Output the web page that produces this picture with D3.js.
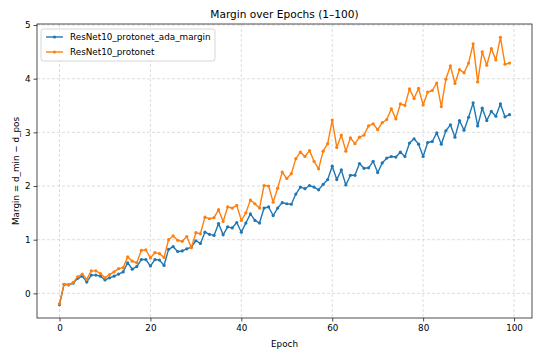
<!DOCTYPE html>
<html>
<head>
<meta charset="utf-8">
<script src="https://cdn.jsdelivr.net/npm/d3@7"></script>
<style>
  body { margin: 0; background: #fff; }
  text { font-family: "DejaVu Sans", sans-serif; fill: #000; }
</style>
</head>
<body>
<svg width="550" height="351"></svg>
<script>
var epochs = d3.range(100);
var seriesNames = ["ResNet10_protonet_ada_margin", "ResNet10_protonet"];
var adaMargin = [
    -0.21, 0.17, 0.16, 0.19, 0.28, 0.32, 0.21, 0.34, 0.34, 0.32,
    0.25, 0.29, 0.32, 0.36, 0.40, 0.57, 0.45, 0.50, 0.63, 0.63,
    0.51, 0.63, 0.62, 0.52, 0.82, 0.87, 0.78, 0.79, 0.83, 0.86,
    0.98, 0.93, 1.14, 1.10, 1.08, 1.30, 1.09, 1.24, 1.22, 1.32,
    1.14, 1.31, 1.48, 1.36, 1.31, 1.59, 1.61, 1.45, 1.59, 1.69,
    1.67, 1.66, 1.85, 1.98, 1.95, 2.01, 1.98, 1.93, 2.03, 2.12,
    2.37, 2.12, 2.30, 2.02, 2.20, 2.20, 2.42, 2.33, 2.34, 2.46,
    2.25, 2.43, 2.52, 2.55, 2.54, 2.63, 2.55, 2.80, 2.88, 2.78,
    2.55, 2.81, 2.83, 2.99, 2.78, 3.03, 3.14, 2.91, 3.22, 3.04,
    3.28, 3.55, 3.12, 3.45, 3.22, 3.39, 3.30, 3.53, 3.29, 3.33
];
var protonet = [
    -0.19, 0.17, 0.16, 0.20, 0.31, 0.36, 0.26, 0.42, 0.42, 0.37,
    0.29, 0.35, 0.40, 0.46, 0.48, 0.68, 0.60, 0.57, 0.80, 0.81,
    0.66, 0.76, 0.74, 0.67, 1.00, 1.07, 0.99, 0.97, 1.06, 0.85,
    1.13, 1.11, 1.42, 1.39, 1.41, 1.56, 1.34, 1.61, 1.59, 1.64,
    1.36, 1.50, 1.74, 1.67, 1.59, 2.01, 2.00, 1.70, 1.96, 2.26,
    2.14, 2.23, 2.51, 2.63, 2.55, 2.66, 2.46, 2.32, 2.65, 2.79,
    3.23, 2.72, 2.95, 2.65, 2.90, 2.79, 2.91, 2.95, 3.12, 3.16,
    3.05, 3.18, 3.24, 3.44, 3.25, 3.53, 3.50, 3.81, 3.63, 3.82,
    3.51, 3.75, 3.78, 3.92, 3.48, 3.99, 4.24, 3.91, 4.17, 4.11,
    4.29, 4.65, 3.94, 4.50, 4.25, 4.56, 4.35, 4.77, 4.27, 4.29
];
var xTicks = [0, 20, 40, 60, 80, 100];
var yTicks = [0, 1, 2, 3, 4, 5];
var colors = ["#1f77b4", "#ff7f0e"];

var svg = d3.select("svg");
var margin = {top: 24, right: 18, bottom: 33, left: 37};
var width = +svg.attr("width") - margin.left - margin.right;
var height = +svg.attr("height") - margin.top - margin.bottom;

// matplotlib-like 5% padding
var allVals = adaMargin.concat(protonet);
var yMin = d3.min(allVals), yMax = d3.max(allVals);
var yPad = (yMax - yMin) * 0.05;
var xPad = (epochs[epochs.length - 1] - epochs[0]) * 0.05;

var x = d3.scaleLinear()
    .domain([epochs[0] - xPad, epochs[epochs.length - 1] + xPad])
    .range([0, width]);
var y = d3.scaleLinear()
    .domain([yMin - yPad, yMax + yPad])
    .range([height, 0]);

var g = svg.append("g").attr("transform", "translate(" + margin.left + "," + margin.top + ")");

// grid
g.append("g").selectAll("line").data(xTicks).enter().append("line")
    .attr("x1", function(d) { return x(d); }).attr("x2", function(d) { return x(d); })
    .attr("y1", 0).attr("y2", height)
    .attr("stroke", "#cfcfcf").attr("stroke-width", 0.7).attr("stroke-dasharray", "3,2");
g.append("g").selectAll("line").data(yTicks).enter().append("line")
    .attr("y1", function(d) { return y(d); }).attr("y2", function(d) { return y(d); })
    .attr("x1", 0).attr("x2", width)
    .attr("stroke", "#cfcfcf").attr("stroke-width", 0.7).attr("stroke-dasharray", "3,2");

// axes
var xAxis = g.append("g").attr("transform", "translate(0," + height + ")")
    .call(d3.axisBottom(x).tickValues(xTicks).tickFormat(d3.format("d")).tickSize(3.5).tickPadding(3));
var yAxis = g.append("g")
    .call(d3.axisLeft(y).tickValues(yTicks).tickFormat(d3.format("d")).tickSize(3.5).tickPadding(3));
[xAxis, yAxis].forEach(function(a) {
    a.select(".domain").remove();
    a.selectAll("line").attr("stroke", "#000").attr("stroke-width", 0.7);
    a.selectAll("text").style("font-size", "8.8px").attr("fill", "#000");
});

// lines
var series = [adaMargin, protonet];
var line = d3.line()
    .x(function(d, i) { return x(epochs[i]); })
    .y(function(d) { return y(d); });

series.forEach(function(vals, k) {
    g.append("path")
        .datum(vals)
        .attr("fill", "none")
        .attr("stroke", colors[k])
        .attr("stroke-width", 1.4)
        .attr("stroke-linejoin", "round")
        .attr("d", line);
    g.append("g").selectAll("circle").data(vals).enter().append("circle")
        .attr("cx", function(d, i) { return x(epochs[i]); })
        .attr("cy", function(d) { return y(d); })
        .attr("r", 1.6)
        .attr("fill", colors[k]);
});

// frame
g.append("rect")
    .attr("width", width).attr("height", height)
    .attr("fill", "none").attr("stroke", "#000").attr("stroke-width", 0.7);

// title & labels
svg.append("text")
    .attr("x", margin.left + width / 2).attr("y", 18)
    .attr("text-anchor", "middle").style("font-size", "10.6px")
    .text("Margin over Epochs (1\u2013100)");
svg.append("text")
    .attr("x", margin.left + width / 2).attr("y", 347)
    .attr("text-anchor", "middle").style("font-size", "8.8px")
    .text("Epoch");
svg.append("text")
    .attr("transform", "translate(19," + (margin.top + height / 2) + ") rotate(-90)")
    .attr("text-anchor", "middle").style("font-size", "8.8px")
    .text("Margin = d_min \u2212 d_pos");

// legend
var legend = g.append("g").attr("transform", "translate(4,5)");
legend.append("rect")
    .attr("width", 174).attr("height", 32).attr("rx", 2.5)
    .attr("fill", "#fff").attr("fill-opacity", 0.8)
    .attr("stroke", "#cccccc").attr("stroke-width", 0.8);
seriesNames.forEach(function(name, k) {
    var ly = 8 + k * 15;
    legend.append("line")
        .attr("x1", 5).attr("x2", 22).attr("y1", ly).attr("y2", ly)
        .attr("stroke", colors[k]).attr("stroke-width", 1.4);
    legend.append("circle").attr("cx", 13.5).attr("cy", ly).attr("r", 1.6).attr("fill", colors[k]);
    legend.append("text")
        .attr("x", 29).attr("y", ly + 3.2)
        .style("font-size", "8.8px")
        .text(name);
});
</script>
</body>
</html>
